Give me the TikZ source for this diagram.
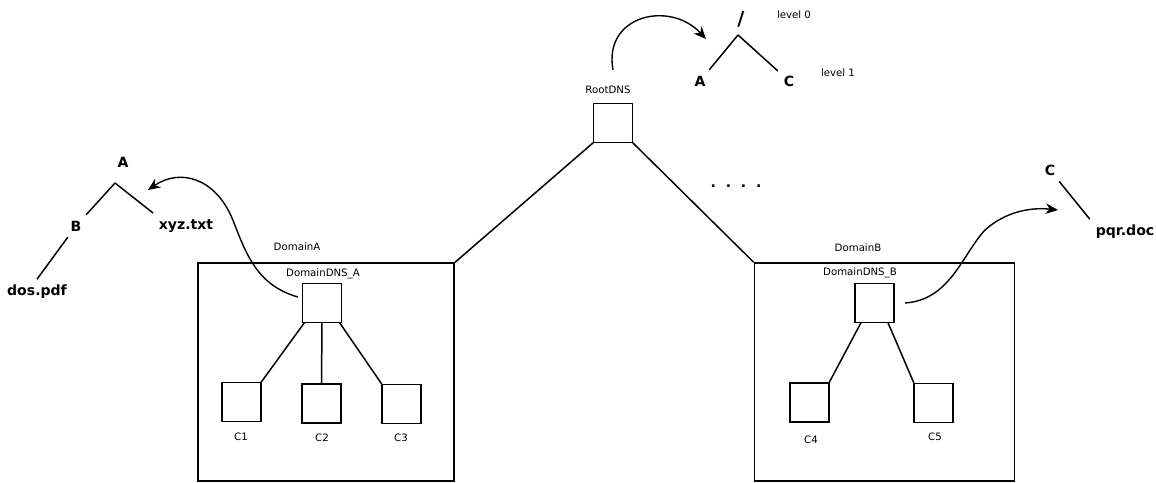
\documentclass[tikz,border=0pt]{standalone}
\usepackage{fontspec}
\setmainfont{DejaVu Sans}
\usetikzlibrary{arrows.meta}

\tikzset{box/.style={draw, line width=0.9pt, minimum width=22pt, minimum height=22pt, inner sep=0pt, outer sep=0pt},
         lbl/.style={font=\fontsize{5.8}{7}\selectfont, inner sep=1pt},
         big/.style={font=\fontsize{8}{10}\selectfont\bfseries, inner sep=3pt},
         arr/.style={-{Stealth[length=7pt,width=6pt]}, line width=0.8pt}}

\begin{document}
\begin{tikzpicture}[x=0.02cm, y=-0.02cm, line width=0.85pt]
    \useasboundingbox (0,0) rectangle (1156,483);

    % RootDNS
    \node[box] (root) at (613,123) {};
    \node[lbl] (rootl) at (608,90) {RootDNS};

    % les deux domaines
    \node[draw, line width=0.9pt, minimum width=146pt, minimum height=124pt, inner sep=0pt] (domA) at (326,372) {};
    \node[draw, line width=0.9pt, minimum width=148pt, minimum height=124pt, inner sep=0pt] (domB) at (884.5,372) {};
    \node[lbl] at (297,247) {DomainA};
    \node[lbl] at (858,248) {DomainB};

    % serveurs DNS des domaines
    \node[box] (dnsA) at (322,303) {};
    \node[lbl] at (323,274) {DomainDNS\_A};
    \node[box] (dnsB) at (874.5,303) {};
    \node[lbl] at (860,273) {DomainDNS\_B};

    % clients
    \node[box] (c1) at (241.5,402) {};
    \node[box] (c2) at (321.5,403.5) {};
    \node[box] (c3) at (401.5,404) {};
    \node[box] (c4) at (809.5,402.5) {};
    \node[box] (c5) at (933.5,403) {};
    \node[lbl] at (241,437) {C1};
    \node[lbl] at (322,438) {C2};
    \node[lbl] at (401,438) {C3};
    \node[lbl] at (811,440) {C4};
    \node[lbl] at (935,437) {C5};

    % arêtes
    \draw (root.south west) -- (domA.north east);
    \draw (root.south east) -- (domB.north west);
    \draw (dnsA.south west) ++(2,0) coordinate (a1) -- (c1.north east);
    \draw (dnsA.south) -- (c2.north);
    \draw (dnsA.south east) ++(-2,0) coordinate (a3) -- (c3.north west);
    \draw (dnsB.south west) ++(6,0) coordinate (b1) -- (c4.north east);
    \draw (dnsB.south east) ++(-6,0) coordinate (b2) -- (c5.north west);
    \node[font=\fontsize{8}{10}\selectfont\bfseries] (dots) at (736,186) {.\ \ .\ \ .\ \ .};

    % arbre du haut
    \node[big, font=\fontsize{11}{13}\selectfont\bfseries] (slash) at (741,19) {/};
    \coordinate (fork) at (738,35);
    \node[big] (tA) at (700,81) {A};
    \node[big] (tC) at (789,81) {C};
    \node[lbl] at (794,15) {level 0};
    \node[lbl] at (838,73) {level 1};
    \draw (fork) -- (tA);
    \draw (fork) -- (tC);

    % arbre de A
    \node[big] (lA) at (123,162) {A};
    \coordinate (lfork) at (115,183);
    \node[big] (lB) at (76,226) {B};
    \node[big] (xyz) at (186,226) {xyz.txt};
    \node[big] (dos) at (37,292) {dos.pdf};
    \draw (lfork) -- (lB);
    \draw (lfork) -- (153,213) coordinate (lx);
    \draw (lB) -- (dos.north);

    % arbre de C
    \node[big] (rC) at (1050,170) {C};
    \node[big] (pqr) at (1125,232) {pqr.doc};
    \draw (rC) -- (pqr.north west);

    % les flèches
    \coordinate (rs) at (613,70);
    \draw[arr] (rs) .. controls (603,15) and (670,0) .. (706,39);
    \coordinate (as) at (298,297);
    \draw[arr] (as) .. controls (255,285) and (245,250) .. (232,218)
                    .. controls (215,178) and (180,168) .. (148,190);
    \coordinate (bs) at (905,303);
    \draw[arr] (bs) .. controls (950,300) and (962,255) .. (985,230)
                    .. controls (1005,212) and (1030,207) .. (1058,210);
\end{tikzpicture}
\end{document}
